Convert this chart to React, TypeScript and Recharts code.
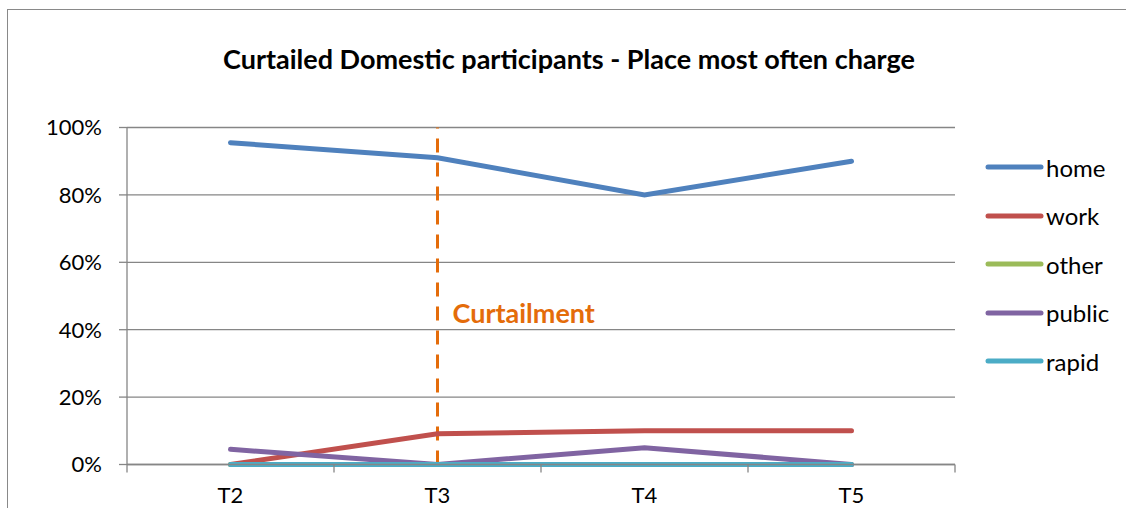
import React from "react";
import {
  LineChart,
  Line,
  XAxis,
  YAxis,
  CartesianGrid,
  ReferenceLine,
  Legend,
} from "recharts";

const periods = ["T2", "T3", "T4", "T5"];
const home = [0.955, 0.91, 0.8, 0.9];
const work = [0, 0.091, 0.1, 0.1];
const other = [0, 0, 0, 0];
const publicCharge = [0.045, 0, 0.05, 0];
const rapid = [0, 0, 0, 0];
const yTicks = [0, 0.2, 0.4, 0.6, 0.8, 1];

const seriesList = [
  { key: "home", name: "home", color: "#4F81BD" },
  { key: "work", name: "work", color: "#C0504D" },
  { key: "other", name: "other", color: "#9BBB59" },
  { key: "public", name: "public", color: "#8064A2" },
  { key: "rapid", name: "rapid", color: "#4BACC6" },
];

const data = periods.map((p, i) => ({
  period: p,
  home: home[i],
  work: work[i],
  other: other[i],
  public: publicCharge[i],
  rapid: rapid[i],
}));

const FONT = "Lato, 'Open Sans', sans-serif";
const AXIS = "#868686";
const X_TICK_SIZE = 8;
const X_TICK_MARGIN = 15;

// category label + Excel-style tick marks between the categories
function BandTick(props: any) {
  const { x, y, payload, index, visibleTicksCount, width } = props;
  const band = width / visibleTicksCount;
  const y0 = y - X_TICK_MARGIN - X_TICK_SIZE;
  const last = index === visibleTicksCount - 1;
  return (
    <g>
      <line
        x1={x - band / 2}
        x2={x - band / 2}
        y1={y0}
        y2={y0 + X_TICK_SIZE}
        stroke={AXIS}
        strokeWidth={1.3}
      />
      {last && (
        <line
          x1={x + band / 2}
          x2={x + band / 2}
          y1={y0}
          y2={y0 + X_TICK_SIZE}
          stroke={AXIS}
          strokeWidth={1.3}
        />
      )}
      <text
        x={x}
        y={y}
        dy="0.71em"
        textAnchor="middle"
        fontSize={22}
        fontFamily={FONT}
        fill="#000"
      >
        {payload.value}
      </text>
    </g>
  );
}

function LegendBox() {
  return (
    <div style={{ fontFamily: FONT }}>
      {seriesList.map((s) => (
        <div
          key={s.key}
          style={{ display: "flex", alignItems: "center", height: 48.5 }}
        >
          <svg width={60} height={10} style={{ marginLeft: 30 }}>
            <line
              x1={3}
              y1={5}
              x2={56}
              y2={5}
              stroke={s.color}
              strokeWidth={5}
              strokeLinecap="round"
            />
          </svg>
          <span style={{ fontSize: 24, color: "#000", marginLeft: 1 }}>
            {s.name}
          </span>
        </div>
      ))}
    </div>
  );
}

export default function App() {
  return (
    <div
      style={{
        position: "absolute",
        left: 0,
        top: 0,
        width: 1126,
        height: 508,
        overflow: "hidden",
        background: "#fff",
      }}
    >
      {/* chart border, cut off at right and bottom */}
      <div
        style={{
          position: "absolute",
          left: 7,
          top: 9,
          width: 1140,
          height: 520,
          border: "1.5px solid #898989",
        }}
      />
      {/* Title */}
      <div
        style={{
          position: "absolute",
          left: 0,
          width: 1138,
          top: 42,
          textAlign: "center",
          fontFamily: FONT,
          fontWeight: 700,
          fontSize: 27,
          color: "#000",
        }}
      >
        Curtailed Domestic participants - Place most often charge
      </div>
      <LineChart
        width={1126}
        height={508}
        data={data}
        margin={{ top: 127.5, right: 0, bottom: 0, left: 0 }}
        style={{ position: "absolute", left: 0, top: 0 }}
      >
        <CartesianGrid
          stroke={AXIS}
          strokeWidth={1.3}
          vertical={false}
          horizontalValues={yTicks}
        />
        <XAxis
          dataKey="period"
          scale="band"
          height={43.5}
          stroke={AXIS}
          strokeWidth={1.3}
          tickLine={false}
          tickSize={X_TICK_SIZE}
          tickMargin={X_TICK_MARGIN}
          tick={<BandTick />}
        />
        <YAxis
          type="number"
          domain={[0, 1]}
          ticks={yTicks}
          width={127}
          tickSize={8}
          tickMargin={17}
          stroke={AXIS}
          strokeWidth={1.3}
          tickFormatter={(v: number) => `${Math.round(v * 100)}%`}
          tick={{ fontSize: 22, fill: "#000", fontFamily: FONT }}
        />
        <ReferenceLine
          x="T3"
          stroke="#E46C0A"
          strokeWidth={3}
          strokeDasharray="14 10"
          label={{
            value: "Curtailment",
            position: "insideLeft",
            offset: 15,
            fill: "#E46C0A",
            fontFamily: FONT,
            fontWeight: 700,
            fontSize: 27,
            dy: 17,
          }}
        />
        <Legend
          layout="vertical"
          align="right"
          verticalAlign="middle"
          wrapperStyle={{ top: 143, right: 0, width: 171 }}
          content={() => <LegendBox />}
        />
        {seriesList.map((s) => (
          <Line
            key={s.key}
            type="linear"
            dataKey={s.key}
            name={s.name}
            stroke={s.color}
            strokeWidth={5}
            strokeLinecap="round"
            dot={false}
            activeDot={false}
            isAnimationActive={false}
          />
        ))}
      </LineChart>
    </div>
  );
}
